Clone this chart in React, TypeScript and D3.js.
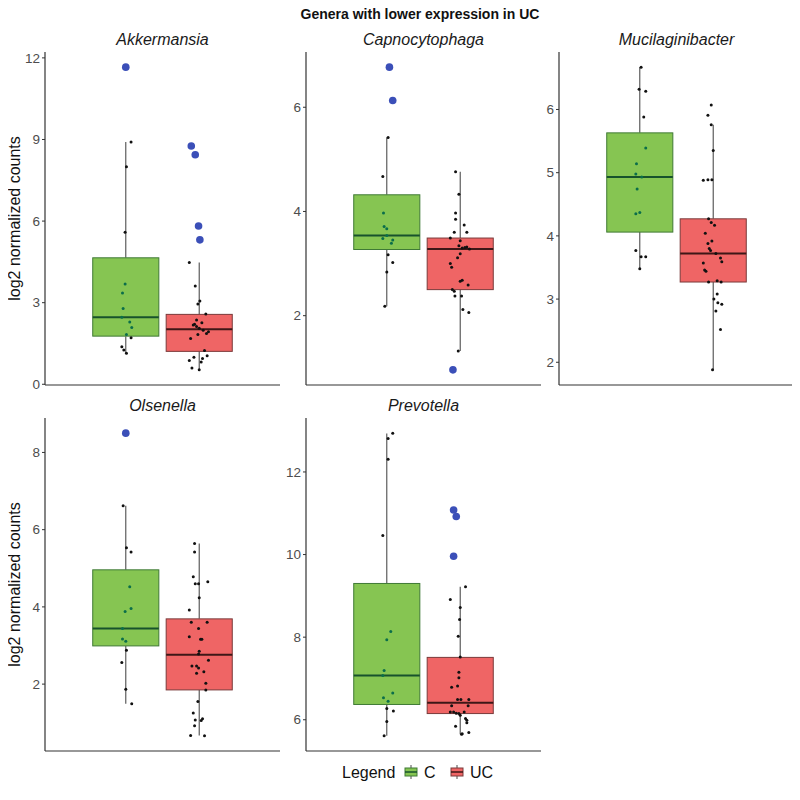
import React from "react";
import * as d3 from "d3";

// chart data
const genera = ["Akkermansia", "Capnocytophaga", "Mucilaginibacter", "Olsenella", "Prevotella"];
const groups = ["C", "UC"];

// [whisker low, q1, median, q3, whisker high]
const boxC = [
  [1.14, 1.77, 2.46, 4.65, 8.91],
  [2.18, 3.27, 3.54, 4.32, 5.42],
  [3.48, 4.06, 4.93, 5.63, 6.67],
  [1.49, 2.99, 3.44, 4.96, 6.62],
  [5.61, 6.37, 7.07, 9.3, 12.93],
];
const boxUC = [
  [0.53, 1.21, 2.02, 2.57, 4.48],
  [1.32, 2.5, 3.28, 3.49, 4.76],
  [1.88, 3.27, 3.72, 4.27, 5.76],
  [0.67, 1.85, 2.76, 3.69, 5.64],
  [5.65, 6.15, 6.41, 7.51, 9.22],
];

// [value, jitter as fraction of box width]
const outliersC = [
  [[11.66, 0]],
  [[6.77, 0.04], [6.13, 0.09]],
  [],
  [[8.5, 0]],
  [],
];
const outliersUC = [
  [[8.76, -0.12], [8.44, -0.06], [5.82, -0.01], [5.31, 0.01]],
  [[0.96, -0.11]],
  [],
  [],
  [[11.08, -0.1], [10.92, -0.06], [9.96, -0.1]],
];

const pointsC = [
  [[11.66, 0], [8.91, 0.08], [8.0, 0.01], [5.59, -0.01], [3.69, -0.01], [3.36, -0.05], [2.79, -0.04], [2.46, -0.06], [2.29, 0.06], [2.09, 0.09], [1.83, 0.01], [1.71, 0.08], [1.38, -0.06], [1.26, -0.03], [1.14, 0.01]],
  [[5.42, 0.02], [4.67, -0.06], [3.97, -0.05], [3.71, -0.04], [3.67, 0], [3.54, 0], [3.48, -0.06], [3.45, 0.09], [3.39, 0.07], [3.17, 0.02], [3.02, 0.09], [2.84, 0], [2.18, -0.03]],
  [[6.67, 0.02], [6.32, -0.01], [6.29, 0.09], [5.88, 0.06], [5.39, 0.09], [5.14, -0.05], [4.98, -0.06], [4.93, 0.03], [4.74, -0.04], [4.37, 0], [4.35, -0.06], [3.77, -0.06], [3.67, 0.02], [3.67, 0.09], [3.48, 0]],
  [[6.62, -0.04], [5.53, 0.01], [5.42, 0.08], [4.52, 0.06], [3.96, 0.08], [3.88, -0.01], [3.44, -0.05], [3.17, -0.05], [3.11, 0], [2.88, 0.01], [2.56, -0.06], [1.87, 0], [1.49, 0.09]],
  [[12.94, 0.09], [12.81, 0.02], [12.31, 0.02], [10.46, -0.06], [8.14, 0.06], [7.94, 0], [7.19, -0.04], [7.07, -0.06], [6.65, 0.09], [6.53, -0.05], [6.45, 0.02], [6.27, 0], [6.21, 0.1], [5.96, 0], [5.61, -0.04]],
];
const pointsUC = [
  [[4.48, -0.15], [3.61, -0.06], [3.06, 0.01], [2.95, -0.02], [2.58, 0.1], [2.36, -0.04], [2.26, 0.04], [2.21, -0.07], [2.18, -0.09], [2.12, -0.04], [2.06, 0], [1.99, 0.06], [1.93, 0.14], [1.87, 0.11], [1.83, -0.02], [1.68, -0.13], [1.24, 0.08], [1.05, 0.12], [0.99, -0.08], [0.95, 0.05], [0.87, -0.15], [0.82, 0.03], [0.6, -0.11], [0.53, 0]],
  [[4.76, -0.07], [4.33, -0.02], [3.97, -0.07], [3.85, -0.07], [3.74, 0.06], [3.6, -0.09], [3.6, 0.1], [3.49, -0.15], [3.44, 0], [3.34, -0.02], [3.32, 0.1], [3.31, 0.07], [3.3, 0.03], [3.28, 0.14], [3.19, 0], [3.11, -0.04], [3.0, -0.15], [2.93, -0.13], [2.68, 0.03], [2.66, 0], [2.59, 0.12], [2.5, -0.12], [2.47, -0.09], [2.38, -0.08], [2.38, 0.02], [2.12, 0.04], [2.06, 0.13], [1.32, -0.03]],
  [[6.07, -0.03], [5.91, -0.08], [5.76, -0.03], [5.35, 0], [4.88, -0.15], [4.89, -0.08], [4.89, -0.02], [4.27, -0.07], [4.21, -0.03], [4.17, 0.02], [4.04, -0.12], [3.92, -0.02], [3.88, -0.08], [3.8, -0.06], [3.77, -0.04], [3.72, 0.04], [3.65, 0.11], [3.57, -0.15], [3.59, 0.13], [3.46, -0.13], [3.44, -0.11], [3.27, -0.07], [3.29, 0.06], [3.27, 0.12], [3.08, 0.06], [3.0, 0.01], [2.94, 0.07], [2.92, 0.13], [2.81, 0.04], [2.52, 0.11], [1.88, -0.01]],
  [[5.64, -0.07], [5.42, -0.07], [4.78, -0.09], [4.6, -0.06], [4.6, -0.01], [4.65, 0.13], [4.24, 0], [3.92, -0.15], [3.6, -0.12], [3.6, 0.12], [3.44, -0.01], [3.23, -0.15], [3.16, 0.02], [3.16, 0.04], [2.85, 0], [2.78, -0.01], [2.62, 0.14], [2.47, -0.11], [2.47, -0.04], [2.42, -0.01], [2.32, 0.07], [2.28, -0.04], [2.02, 0.1], [1.85, 0.1], [1.55, -0.02], [1.25, -0.09], [1.1, 0.05], [1.06, 0.03], [1.07, -0.06], [0.92, -0.07], [0.67, -0.13], [0.66, 0.08]],
  [[9.22, 0.08], [8.91, -0.15], [8.72, 0], [8.43, -0.01], [8.02, -0.03], [7.52, 0], [7.15, -0.02], [7.02, -0.02], [6.82, -0.04], [6.79, -0.13], [6.49, -0.04], [6.49, 0.01], [6.49, 0.13], [6.34, -0.13], [6.34, 0.12], [6.19, -0.15], [6.19, -0.1], [6.16, -0.06], [6.19, 0.06], [6.15, -0.02], [6.11, 0], [6.03, 0.08], [5.99, 0.1], [5.93, 0.1], [5.84, -0.07], [5.69, 0.13], [5.66, 0.03], [5.65, 0.02]],
];

const yTicks = [[0, 3, 6, 9, 12], [2, 4, 6], [2, 3, 4, 5, 6], [2, 4, 6, 8], [6, 8, 10, 12]];

const fills = { C: "#86c552", UC: "#ef6565" };
const strokes = { C: "#3f7a35", UC: "#7a3a3a" };
const medians = { C: "#17522c", UC: "#3e1717" };

const colX = [45, 306, 559];
const rowTop = [52, 418];
const panelW = 235;
const panelH = 333;
const font = "Liberation Sans, Arial, Helvetica, sans-serif";

const Panel = ({ i }) => {
  const x0 = colX[i % 3];
  const y0 = rowTop[Math.floor(i / 3)];
  const boxes = [boxC[i], boxUC[i]];
  const pts = [pointsC[i], pointsUC[i]];
  const outs = [outliersC[i], outliersUC[i]];

  // ggplot-like 5% expansion of the data range
  const all = [...boxes.flat(), ...pts.flat().map((p) => p[0]), ...outs.flat().map((p) => p[0])];
  const [lo, hi] = d3.extent(all);
  const pad = (hi - lo) * 0.05;
  const y = d3.scaleLinear().domain([lo - pad, hi + pad]).range([y0 + panelH, y0]);

  const x = d3.scaleLinear().domain([0.4, 1.6]).range([x0, x0 + panelW]);
  const centers = [0.8125, 1.1875];
  const bw = x(0.3375) - x(0);

  return (
    <g>
      <text x={x0 + panelW / 2} y={y0 - 7} textAnchor="middle" fontStyle="italic" fontSize={16} fill="#1a1a1a">
        {genera[i]}
      </text>
      {groups.map((g, k) => {
        const cx = x(centers[k]);
        const [wl, q1, md, q3, wh] = boxes[k];
        return (
          <g key={g}>
            <line x1={cx} x2={cx} y1={y(wh)} y2={y(q3)} stroke="#4d4d4d" strokeWidth={1.1} />
            <line x1={cx} x2={cx} y1={y(q1)} y2={y(wl)} stroke="#4d4d4d" strokeWidth={1.1} />
            <rect x={cx - bw / 2} y={y(q3)} width={bw} height={y(q1) - y(q3)} fill={fills[g]} stroke={strokes[g]} strokeWidth={1} />
            <line x1={cx - bw / 2} x2={cx + bw / 2} y1={y(md)} y2={y(md)} stroke={medians[g]} strokeWidth={2} />
            {pts[k].map((p, j) => (
              <circle
                key={j}
                cx={cx + p[1] * bw}
                cy={y(p[0])}
                r={1.5}
                fill={g === "C" && p[0] > q1 && p[0] < q3 ? "#0b6e4a" : "#111"}
              />
            ))}
            {outs[k].map((p, j) => (
              <circle key={"o" + j} cx={cx + p[1] * bw} cy={y(p[0])} r={3.8} fill="#3b4fb8" />
            ))}
          </g>
        );
      })}
      {yTicks[i].map((t) => (
        <g key={t}>
          <line x1={x0 - 3} x2={x0} y1={y(t)} y2={y(t)} stroke="#333" />
          <text x={x0 - 5} y={y(t)} dy="0.35em" textAnchor="end" fontSize={13.5} fill="#4d4d4d">
            {t}
          </text>
        </g>
      ))}
      <line x1={x0} x2={x0} y1={y0} y2={y0 + panelH} stroke="#333" strokeWidth={1.2} />
      <line x1={x0} x2={x0 + panelW} y1={y0 + panelH} y2={y0 + panelH} stroke="#333" strokeWidth={1.2} />
    </g>
  );
};

const LegendKey = ({ x, y, g }) => (
  <g>
    <line x1={x + 7} x2={x + 7} y1={y} y2={y + 14} stroke="#4d4d4d" />
    <rect x={x + 1} y={y + 3} width={12} height={8} fill={fills[g]} stroke={strokes[g]} />
    <line x1={x + 1} x2={x + 13} y1={y + 7} y2={y + 7} stroke={medians[g]} strokeWidth={1.5} />
  </g>
);

export default function App() {
  return (
    <svg width={800} height={800} style={{ display: "block", margin: -8, fontFamily: font }}>
      <rect width={800} height={800} fill="#fff" />
      <text x={420} y={19} textAnchor="middle" fontWeight="bold" fontSize={14} fill="#111">
        Genera with lower expression in UC
      </text>
      {rowTop.map((t, r) => (
        <text
          key={r}
          transform={`translate(20, ${t + panelH / 2}) rotate(-90)`}
          textAnchor="middle"
          fontSize={16}
          fill="#111"
        >
          log2 normalized counts
        </text>
      ))}
      {genera.map((g, i) => (
        <Panel key={g} i={i} />
      ))}
      <text x={342} y={778} fontSize={16} fill="#111">Legend</text>
      <LegendKey x={404} y={765} g="C" />
      <text x={424} y={778} fontSize={16} fill="#111">C</text>
      <LegendKey x={450} y={765} g="UC" />
      <text x={470} y={778} fontSize={16} fill="#111">UC</text>
    </svg>
  );
}
